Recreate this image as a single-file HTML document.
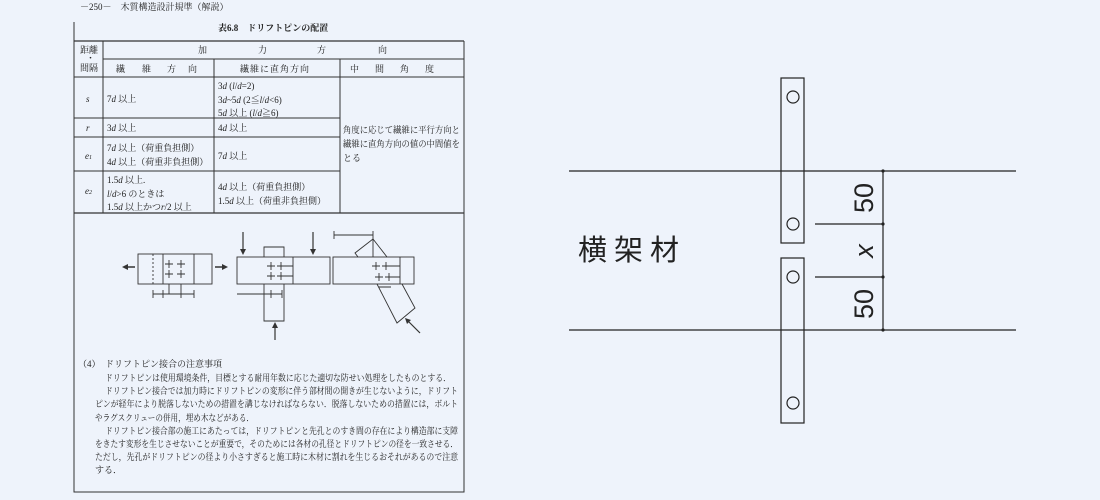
<!DOCTYPE html>
<html><head><meta charset="utf-8"><style>
html,body{margin:0;padding:0;background:#eef3fb;}
svg{display:block;}
.m{font-family:"Liberation Serif","Noto Serif CJK JP",serif;font-size:9px;fill:#222;}
.b{font-size:9px;}
.i{font-style:italic;}
</style></head><body>
<svg width="1100" height="500" viewBox="0 0 1100 500" xmlns="http://www.w3.org/2000/svg">
<rect width="1100" height="500" fill="#eef3fb"/>
<g stroke="#333" fill="none" stroke-width="1">
<polyline points="74,22 74,492 464,492 464,213"/>
<line x1="74" y1="41" x2="464" y2="41" stroke-width="1.2"/>
<line x1="103" y1="59" x2="464" y2="59"/>
<line x1="74" y1="77" x2="464" y2="77"/>
<line x1="74" y1="118" x2="340" y2="118"/>
<line x1="74" y1="137" x2="340" y2="137"/>
<line x1="74" y1="171" x2="340" y2="171"/>
<line x1="74" y1="213" x2="464" y2="213" stroke-width="1.2"/>
<line x1="103" y1="41" x2="103" y2="213"/>
<line x1="214" y1="59" x2="214" y2="213"/>
<line x1="340" y1="59" x2="340" y2="213"/>
<line x1="464" y1="41" x2="464" y2="213"/>
</g>
<text class="m" x="80" y="10" font-size="8.5">－250－　木質構造設計規準（解説）</text>
<text class="m" x="218" y="31" font-weight="bold">表6.8　ドリフトピンの配置</text>
<text class="m" x="80" y="53">距離</text><text class="m" x="86" y="61">・</text><text class="m" x="80" y="71">間隔</text>
<text class="m" x="198" y="53">加</text><text class="m" x="258" y="53">力</text><text class="m" x="317" y="53">方</text><text class="m" x="378" y="53">向</text>
<text class="m" x="116" y="72">繊</text><text class="m" x="142" y="72">維</text><text class="m" x="167" y="72">方</text><text class="m" x="188" y="72">向</text>
<text class="m" x="240" y="72" letter-spacing="1">繊維に直角方向</text>
<text class="m" x="350" y="72">中</text><text class="m" x="375" y="72">間</text><text class="m" x="400" y="72">角</text><text class="m" x="425" y="72">度</text>
<text class="m i" x="86" y="102" font-size="10">s</text>
<text class="m i" x="86" y="131" font-size="10">r</text>
<text class="m i" x="85" y="159" font-size="10">e<tspan font-size="6">1</tspan></text>
<text class="m i" x="85" y="194" font-size="10">e<tspan font-size="6">2</tspan></text>
<text class="m" x="107" y="102">7<tspan class="i">d</tspan> 以上</text>
<text class="m" x="218" y="89">3<tspan class="i">d</tspan> (<tspan class="i">l</tspan>/<tspan class="i">d</tspan>=2)</text>
<text class="m" x="218" y="103">3<tspan class="i">d</tspan>~5<tspan class="i">d</tspan> (2≦<tspan class="i">l</tspan>/<tspan class="i">d</tspan>&lt;6)</text>
<text class="m" x="218" y="116">5<tspan class="i">d</tspan> 以上 (<tspan class="i">l</tspan>/<tspan class="i">d</tspan>≧6)</text>
<text class="m" x="107" y="131">3<tspan class="i">d</tspan> 以上</text><text class="m" x="218" y="131">4<tspan class="i">d</tspan> 以上</text>
<text class="m" x="107" y="151">7<tspan class="i">d</tspan> 以上（荷重負担側）</text>
<text class="m" x="107" y="165">4<tspan class="i">d</tspan> 以上（荷重非負担側）</text>
<text class="m" x="218" y="159">7<tspan class="i">d</tspan> 以上</text>
<text class="m" x="107" y="183">1.5<tspan class="i">d</tspan> 以上.</text>
<text class="m" x="107" y="197"><tspan class="i">l</tspan>/<tspan class="i">d</tspan>&gt;6 のときは</text>
<text class="m" x="107" y="210">1.5<tspan class="i">d</tspan> 以上かつ<tspan class="i">r</tspan>/2 以上</text>
<text class="m" x="218" y="190">4<tspan class="i">d</tspan> 以上（荷重負担側）</text>
<text class="m" x="218" y="204">1.5<tspan class="i">d</tspan> 以上（荷重非負担側）</text>
<text class="m" x="343" y="133" textLength="117" lengthAdjust="spacingAndGlyphs">角度に応じて繊維に平行方向と</text>
<text class="m" x="343" y="147" textLength="117" lengthAdjust="spacingAndGlyphs">繊維に直角方向の値の中間値を</text>
<text class="m" x="343" y="161">とる</text>
<g stroke="#333" fill="none" stroke-width="0.9">
<rect x="138" y="254" width="74" height="30"/>
<line x1="194" y1="254" x2="194" y2="284"/>
<line x1="153" y1="254" x2="153" y2="284" stroke-dasharray="2,2"/>
<line x1="163" y1="254" x2="163" y2="284"/>
<path d="M165,264h8M169,260v8M177,264h8M181,260v8M165,274h8M169,270v8M177,274h8M181,270v8"/>
<path d="M153,294H194M153,290v8M163,290v8M181,290v8M194,290v8M169,284v10M181,284v10"/>
<line x1="135" y1="267" x2="124" y2="267" stroke-width="1.5"/>
<line x1="215" y1="267" x2="226" y2="267" stroke-width="1.5"/>
<rect x="237" y="257" width="93" height="27"/>
<polyline points="264,257 264,247 284,247 284,257"/>
<polyline points="264,284 264,321 284,321 284,284"/>
<line x1="293" y1="257" x2="293" y2="284"/>
<path d="M267,266h8M271,262v8M277,266h8M281,262v8M267,276h8M271,272v8M277,276h8M281,272v8"/>
<path d="M285,266h8M285,276h8M237,294h45M271,290v8M282,290v8"/>
<line x1="243" y1="232" x2="243" y2="252" stroke-width="1.2"/>
<line x1="313" y1="232" x2="313" y2="252" stroke-width="1.2"/>
<line x1="275" y1="340" x2="275" y2="326" stroke-width="1.2"/>
<rect x="333" y="257" width="81" height="27"/>
<line x1="400" y1="257" x2="400" y2="284"/>
<polyline points="358,257 355,253 373,239 387,257"/>
<polyline points="377,284 397,323 415,308 402,284"/>
<line x1="373" y1="239" x2="373" y2="257"/>
<path d="M334,231v8M373,231v8M334,235h39"/>
<path d="M372,266h8M376,262v8M382,266h8M386,262v8M375,277h8M379,273v8M385,277h8M389,273v8M389,266h11M392,277h8M379,287h12"/>
<line x1="420" y1="333" x2="408" y2="321" stroke-width="1.2"/>
</g>
<g fill="#333">
<polygon points="122,267 128,264 128,270"/><polygon points="228,267 222,264 222,270"/>
<polygon points="243,255 240,249 246,249"/><polygon points="313,255 310,249 316,249"/>
<polygon points="275,322 272,328 278,328"/><polygon points="405,318 411,320 407,324"/>
</g>
<text class="m b" x="78" y="367">（4）</text><text class="m b" x="105" y="367">ドリフトピン接合の注意事項</text>
<text class="m b" x="105" y="381" textLength="346" lengthAdjust="spacingAndGlyphs">ドリフトピンは使用環境条件，目標とする耐用年数に応じた適切な防せい処理をしたものとする．</text>
<text class="m b" x="105" y="394" textLength="353" lengthAdjust="spacingAndGlyphs">ドリフトピン接合では加力時にドリフトピンの変形に伴う部材間の開きが生じないように，ドリフト</text>
<text class="m b" x="95" y="407" textLength="363" lengthAdjust="spacingAndGlyphs">ピンが経年により脱落しないための措置を講じなければならない．脱落しないための措置には，ボルト</text>
<text class="m b" x="95" y="421" textLength="159" lengthAdjust="spacingAndGlyphs">やラグスクリューの併用，埋め木などがある．</text>
<text class="m b" x="105" y="434" textLength="353" lengthAdjust="spacingAndGlyphs">ドリフトピン接合部の施工にあたっては，ドリフトピンと先孔とのすき間の存在により構造部に支障</text>
<text class="m b" x="95" y="447" textLength="363" lengthAdjust="spacingAndGlyphs">をきたす変形を生じさせないことが重要で，そのためには各材の孔径とドリフトピンの径を一致させる．</text>
<text class="m b" x="95" y="460" textLength="363" lengthAdjust="spacingAndGlyphs">ただし，先孔がドリフトピンの径より小さすぎると施工時に木材に割れを生じるおそれがあるので注意</text>
<text class="m b" x="95" y="473">する．</text>
<g stroke="#222" fill="none" stroke-width="1.2">
<line x1="569" y1="171" x2="1016" y2="171"/>
<line x1="569" y1="330" x2="1016" y2="330"/>
<rect x="781" y="78" width="23" height="165"/>
<rect x="781" y="258" width="23" height="165"/>
<circle cx="793" cy="97" r="6"/><circle cx="793" cy="224" r="6"/>
<circle cx="793" cy="277" r="6"/><circle cx="793" cy="403" r="6"/>
<line x1="883" y1="171" x2="883" y2="330"/>
<line x1="815" y1="224" x2="883" y2="224"/>
<line x1="815" y1="277" x2="883" y2="277"/>
</g>
<g fill="#222"><circle cx="883" cy="171" r="1.6"/><circle cx="883" cy="224" r="1.6"/><circle cx="883" cy="277" r="1.6"/><circle cx="883" cy="330" r="1.6"/></g>
<g font-family="Liberation Sans, DejaVu Sans, sans-serif" font-size="27" fill="#222">
<text transform="translate(873,198) rotate(-90)" text-anchor="middle">50</text>
<text transform="translate(873,304) rotate(-90)" text-anchor="middle">50</text>
<text transform="translate(873,251) rotate(-90)" text-anchor="middle" font-style="italic">x</text>
</g>
<text x="578" y="260" font-family="Liberation Sans, Noto Sans CJK JP, sans-serif" font-size="29" fill="#222" letter-spacing="7">横架材</text>
</svg>
</body></html>
